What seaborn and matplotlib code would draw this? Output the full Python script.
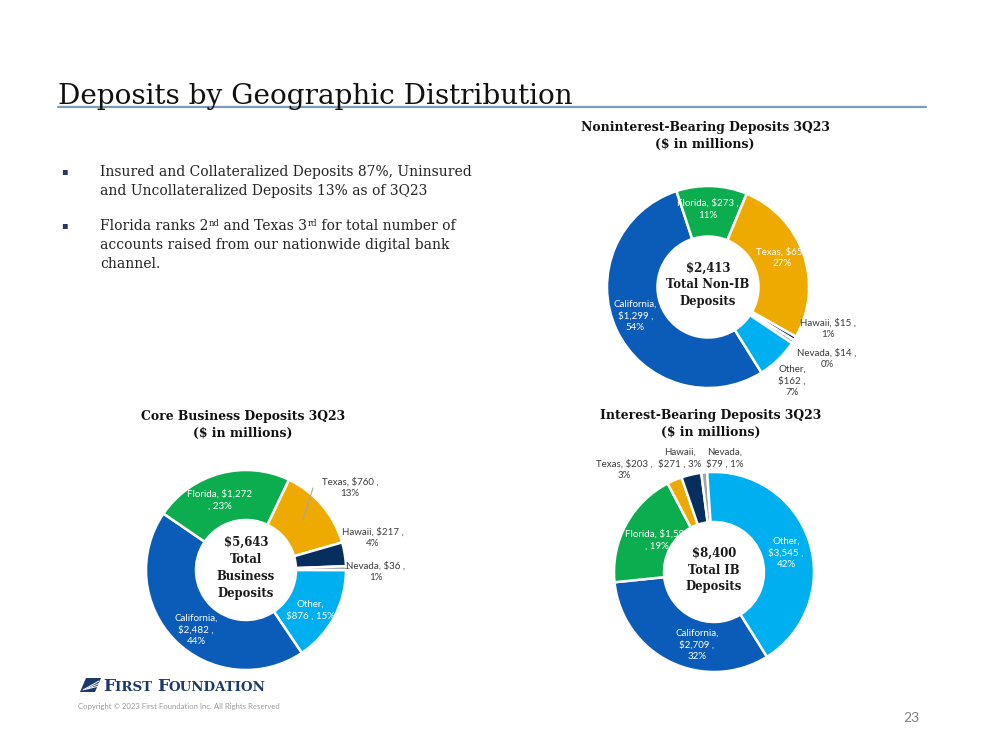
import matplotlib
matplotlib.use("Agg")
import matplotlib.pyplot as plt
import seaborn as sns
from matplotlib.patches import Polygon

sns.set_theme(style="white")
plt.rcParams['font.family'] = ['DejaVu Sans']

# ---------------- data ----------------
regions = ["California", "Florida", "Texas", "Hawaii", "Nevada", "Other"]

nonib_values = [1299, 273, 650, 15, 14, 162]
nonib_pct = [54, 11, 27, 1, 0, 7]
nonib_total = "$2,413"

core_values = [2482, 1272, 760, 217, 36, 876]
core_pct = [44, 23, 13, 4, 1, 15]
core_total = "$5,643"

ib_values = [2709, 1593, 203, 271, 79, 3545]
ib_pct = [32, 19, 3, 3, 1, 42]
ib_total = "$8,400"

palette = sns.color_palette(["#0A5CB8", "#0BAD4E", "#EEAA00",
                             "#062F5F", "#A5A5A5", "#00AFEF"])
colors = dict(zip(regions, palette))

W, H = 999, 750
fig = plt.figure(figsize=(W / 100, H / 100), dpi=100)
fig.patch.set_facecolor("white")


def fx(px):
    return px / W


def fy(py):
    return 1 - py / H


SERIF = "DejaVu Serif"
LABEL_FONT = ["Lato", "DejaVu Sans"]
DARK = "#3A3A3A"
TEXT = "#222222"

# ---------------- header ----------------
fig.text(fx(58), fy(104), "Deposits by Geographic Distribution", family=SERIF,
         fontsize=20.1, color="#111111", ha="left", va="baseline")
fig.add_artist(plt.Line2D([fx(58), fx(926)], [fy(106.5), fy(106.5)],
                          color="#7E9CB6", lw=1.6, transform=fig.transFigure))

# ---------------- bullets ----------------
BFS = 10.0


def bullet(py):
    fig.text(fx(64), fy(py), "\u25aa", family="DejaVu Sans", fontsize=7,
             color="#1F3864", ha="center", va="center")


bullet(171)
fig.text(fx(100), fy(176), "Insured and Collateralized Deposits 87%, Uninsured",
         family=SERIF, fontsize=BFS, color=TEXT, va="baseline")
fig.text(fx(100), fy(195), "and Uncollateralized Deposits 13% as of 3Q23",
         family=SERIF, fontsize=BFS, color=TEXT, va="baseline")

bullet(225)
line3_pieces = [("Florida ranks 2", False), ("nd", True), (" and Texas 3", False),
                ("rd", True), (" for total number of", False)]
line3 = []
for txt, sup in line3_pieces:
    t = fig.text(0, 0, txt, family=SERIF, fontsize=BFS * 0.62 if sup else BFS,
                 color=TEXT, va="baseline")
    line3.append((t, 4.5 if sup else 0.0))

fig.text(fx(100), fy(249), "accounts raised from our nationwide digital bank",
         family=SERIF, fontsize=BFS, color=TEXT, va="baseline")
fig.text(fx(100), fy(268), "channel.", family=SERIF, fontsize=BFS,
         color=TEXT, va="baseline")


# ---------------- donuts ----------------
def donut(cx, cy, R, values, pcts, total_lines, total_ls, title_lines, title_y,
          label_cfg, startangle):
    ax = fig.add_axes([fx(cx - R), fy(cy + R), 2 * R / W, 2 * R / H])
    ax.pie(values, colors=[colors[r] for r in regions], startangle=startangle,
           counterclock=False, radius=1.0,
           wedgeprops=dict(width=0.5, edgecolor="white", linewidth=1.8))
    ax.set_xlim(-1, 1)
    ax.set_ylim(-1, 1)
    ax.set_aspect("equal")
    ax.axis("off")
    for i, reg in enumerate(regions):
        fmt, (lx, ly), inside = label_cfg[reg]
        txt = fmt.format(name=reg, val=f"{values[i]:,}", pct=pcts[i])
        ax.text(lx, ly, txt, ha="center", va="center", family=LABEL_FONT,
                fontsize=7, linespacing=1.35,
                color="white" if inside else DARK, clip_on=False)
    ax.text(0, 0.02, "\n".join(total_lines), ha="center", va="center",
            family=SERIF, fontweight="bold", fontsize=8.4, linespacing=total_ls,
            color="#1a1a1a")
    fig.text(fx(cx - 3), fy(title_y), "\n".join(title_lines), ha="center",
             va="center", family=SERIF, fontweight="bold", fontsize=8.9,
             linespacing=1.45, color="#111111")
    return ax


nonib_cfg = {
    "California": ("{name},\n${val} ,\n{pct}%", (-0.72, -0.29), True),
    "Florida": ("{name}, ${val} ,\n{pct}%", (0.0, 0.77), True),
    "Texas": ("{name}, ${val}\n{pct}%", (0.73, 0.29), True),
    "Hawaii": ("{name}, ${val} ,\n{pct}%", (1.19, -0.41), False),
    "Nevada": ("{name}, ${val} ,\n{pct}%", (1.18, -0.71), False),
    "Other": ("{name},\n${val} ,\n{pct}%", (0.83, -0.93), False),
}
donut(708, 287, 101, nonib_values, nonib_pct,
      [nonib_total, "Total Non-IB", "Deposits"], 1.38,
      ["Noninterest-Bearing Deposits 3Q23", "($ in millions)"], 136,
      nonib_cfg, -58)

core_cfg = {
    "California": ("{name},\n${val} ,\n{pct}%", (-0.50, -0.60), True),
    "Florida": ("{name}, ${val}\n, {pct}%", (-0.26, 0.70), True),
    "Texas": ("{name}, ${val} ,\n{pct}%", (1.04, 0.82), False),
    "Hawaii": ("{name}, ${val} ,\n{pct}%", (1.27, 0.32), False),
    "Nevada": ("{name}, ${val} ,\n{pct}%", (1.30, -0.02), False),
    "Other": ("{name},\n${val} , {pct}%", (0.64, -0.40), True),
}
ax_core = donut(246, 570, 100, core_values, core_pct,
                [core_total, "Total", "Business", "Deposits"], 1.42,
                ["Core Business Deposits 3Q23", "($ in millions)"], 425,
                core_cfg, -56)
ax_core.plot([0.67, 0.57], [0.82, 0.50], color="#A6A6A6", lw=0.8,
             clip_on=False)
ax_core.plot([0.96, 1.03], [0.02, 0.02], color="#A6A6A6", lw=0.8,
             clip_on=False)

ib_cfg = {
    "California": ("{name},\n${val} ,\n{pct}%", (-0.17, -0.73), True),
    "Florida": ("{name}, ${val}\n, {pct}%", (-0.57, 0.32), True),
    "Texas": ("{name}, ${val} ,\n{pct}%", (-0.90, 1.02), False),
    "Hawaii": ("{name},\n${val} , {pct}%", (-0.34, 1.14), False),
    "Nevada": ("{name},\n${val} , {pct}%", (0.11, 1.14), False),
    "Other": ("{name},\n${val} ,\n{pct}%", (0.72, 0.19), True),
}
donut(714, 572, 100, ib_values, ib_pct,
      [ib_total, "Total IB", "Deposits"], 1.38,
      ["Interest-Bearing Deposits 3Q23", "($ in millions)"], 424,
      ib_cfg, -58)

# ---------------- footer ----------------
icon = Polygon([[fx(80), fy(692)], [fx(86), fy(678)], [fx(101), fy(678)],
                [fx(95), fy(692)]], closed=True, facecolor="#1B3A6B",
               edgecolor="none", transform=fig.transFigure)
fig.add_artist(icon)
for k in range(3):
    fig.add_artist(plt.Line2D([fx(83 + 2 * k), fx(99)],
                              [fy(690 - 0.5 * k), fy(681 + 2.5 * k)],
                              color="white", lw=0.7, transform=fig.transFigure))

logo = []
for txt, fs in [("F", 12.3), ("IRST ", 9.6), ("F", 12.3), ("OUNDATION", 9.6)]:
    t = fig.text(0, 0, txt, family=SERIF, fontweight="bold", fontsize=fs,
                 color="#1B3A6B", va="baseline")
    logo.append((t, 0.0))

fig.text(fx(78), fy(709),
         "Copyright \u00a9 2023 First Foundation Inc. All Rights Reserved",
         family=LABEL_FONT, fontsize=5.6, color="#9A9A9A", va="baseline")
fig.text(fx(911), fy(722), "23", family=LABEL_FONT, fontsize=10,
         color="#7F7F7F", ha="center", va="baseline")

# ---- lay out inline text runs (superscripts, small caps) ----
fig.canvas.draw()
renderer = fig.canvas.get_renderer()


def chain_layout(items, x0, ybase):
    x = x0
    for t, dy in items:
        t.set_position((fx(x), fy(ybase - dy)))
        x += t.get_window_extent(renderer).width


chain_layout(line3, 100, 230)
chain_layout(logo, 103, 691)

fig.savefig("out.png", dpi=100, facecolor="white")
